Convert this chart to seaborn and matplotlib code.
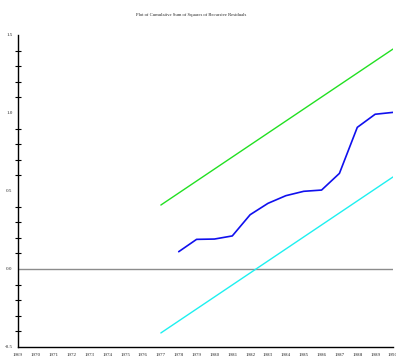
import matplotlib
matplotlib.use("Agg")
import matplotlib.pyplot as plt
from matplotlib.ticker import MultipleLocator
import seaborn as sns
import pandas as pd

# CUSUM of squares of recursive residuals, 1978-1990
years = [1978, 1979, 1980, 1981, 1982, 1983, 1984, 1985, 1986, 1987, 1988, 1989, 1990]
cusumsq = [0.111, 0.190, 0.192, 0.212, 0.348, 0.421, 0.470, 0.498, 0.506, 0.613, 0.908, 0.992, 1.004]

# 5% significance bounds (straight lines)
bound_years = [1977, 1990]
upper_bound = [0.41, 1.41]
lower_bound = [-0.41, 0.59]

tick_years = list(range(1969, 1991))
y_ticks = [-0.5, 0.0, 0.5, 1.0, 1.5]
y_labels = ["-0.5", "0.0", "0.5", "1.0", "1.5"]

sns.set_style("white")
plt.rcParams["font.family"] = ["Liberation Serif", "DejaVu Serif"]

fig = plt.figure(figsize=(3.96, 3.60), dpi=100)
ax = fig.add_axes([18 / 396, 1 - 347 / 360, 375 / 396, 312 / 360])

df = pd.DataFrame({"year": years, "cusumsq": cusumsq})
bounds = pd.DataFrame({"year": bound_years, "upper": upper_bound, "lower": lower_bound})

ax.axhline(0, color="#8c8c8c", lw=1.0, zorder=1)
sns.lineplot(data=bounds, x="year", y="upper", ax=ax, color="#22e022", lw=1.0)
sns.lineplot(data=bounds, x="year", y="lower", ax=ax, color="#1ef0f0", lw=1.0)
sns.lineplot(data=df, x="year", y="cusumsq", ax=ax, color="#1010ee", lw=1.2)

ax.set_xlim(1969, 1990)
ax.set_ylim(-0.5, 1.5)
ax.set_xticks(tick_years)
ax.set_xticklabels([str(y) for y in tick_years], fontsize=3.6)
ax.set_yticks(y_ticks)
ax.set_yticklabels(y_labels, fontsize=3.6)
ax.yaxis.set_minor_locator(MultipleLocator(0.1))
ax.set_xlabel("")
ax.set_ylabel("")

ax.tick_params(axis="x", which="major", direction="in", length=6, width=0.8,
               color="black", pad=4)
ax.tick_params(axis="y", which="major", direction="inout", length=6, width=0.8,
               color="black", pad=1)
ax.tick_params(axis="y", which="minor", left=True, direction="inout", length=5,
               width=0.8, color="black")

for side in ("top", "right"):
    ax.spines[side].set_visible(False)
for side in ("left", "bottom"):
    ax.spines[side].set_color("black")
    ax.spines[side].set_linewidth(1.0)

fig.text(0.483, 1 - 15 / 360, "Plot of Cumulative Sum of Squares of Recursive Residuals",
         ha="center", va="center", fontsize=3.3)

fig.savefig("out.png", dpi=100)
